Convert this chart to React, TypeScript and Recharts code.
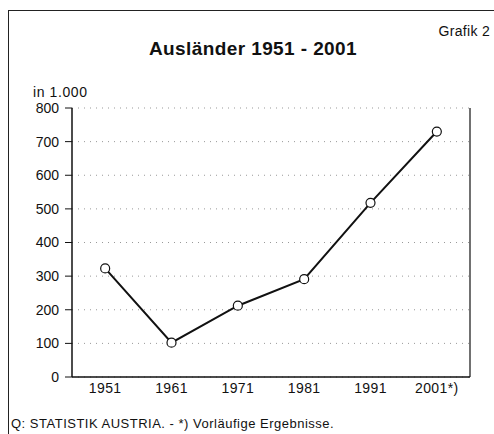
import React from 'react';
import { LineChart, Line, XAxis, YAxis, CartesianGrid } from 'recharts';

const years = ['1951', '1961', '1971', '1981', '1991', '2001*)'];
const auslaender = [323, 102, 212, 291, 518, 730];
const yTicks = [0, 100, 200, 300, 400, 500, 600, 700, 800];

const data = years.map((year, i) => ({ year, value: auslaender[i] }));

const font = '"Liberation Sans", Arial, Helvetica, sans-serif';

const App: React.FC = () => {
  return (
    <div style={{ position: 'absolute', left: 0, top: 0, width: 494, height: 434, background: '#fff', fontFamily: font, color: '#111' }}>
      {/* frame */}
      <div style={{ position: 'absolute', left: 8, top: 10, width: 486, height: 424, borderLeft: '1.5px solid #222', borderTop: '1.5px solid #222' }} />
      <div style={{ position: 'absolute', right: 4, top: 23, fontSize: 14, letterSpacing: 0.3 }}>Grafik 2</div>
      <div style={{ position: 'absolute', left: 0, width: 506, top: 38, textAlign: 'center', fontSize: 19, fontWeight: 'bold', letterSpacing: 0.4 }}>
        Ausländer 1951 - 2001
      </div>
      <div style={{ position: 'absolute', left: 33, top: 84, fontSize: 14, letterSpacing: 0.6 }}>in 1.000</div>
      <div style={{ position: 'absolute', left: 11, top: 416, fontSize: 13, letterSpacing: 0.5 }}>
        Q: STATISTIK AUSTRIA. - *) Vorläufige Ergebnisse.
      </div>

      <div style={{ position: 'absolute', left: 0, top: 0 }}>
        <LineChart width={494} height={434} data={data} margin={{ top: 108, right: 0, bottom: 0, left: 0 }}>
          <CartesianGrid vertical={false} yAxisId="l" stroke="#999" strokeDasharray="1 5" />
          <XAxis
            dataKey="year"
            scale="band"
            height={57}
            tickSize={0}
            tickMargin={6}
            axisLine={{ stroke: '#111', strokeWidth: 1.5 }}
            tick={{ fill: '#111', fontSize: 14, fontFamily: font, letterSpacing: 0.4 }}
          />
          <YAxis
            yAxisId="l"
            width={72}
            domain={[0, 800]}
            ticks={yTicks}
            interval={0}
            tickSize={7}
            tickMargin={6}
            axisLine={{ stroke: '#111', strokeWidth: 1.5 }}
            tickLine={{ stroke: '#111' }}
            tick={{ fill: '#111', fontSize: 14, fontFamily: font }}
          />
          <YAxis
            yAxisId="r"
            orientation="right"
            width={24}
            domain={[0, 800]}
            ticks={yTicks}
            tick={false}
            tickLine={false}
            axisLine={{ stroke: '#111', strokeWidth: 1.2 }}
          />
          <XAxis
            xAxisId="t"
            orientation="top"
            dataKey="year"
            scale="band"
            height={0}
            tick={false}
            tickLine={false}
            axisLine={{ stroke: '#111', strokeWidth: 1.5 }}
          />
          <Line
            yAxisId="l"
            type="linear"
            dataKey="value"
            stroke="#111"
            strokeWidth={2}
            dot={{ r: 4.5, fill: '#fff', stroke: '#111', strokeWidth: 1.2 }}
            isAnimationActive={false}
          />
        </LineChart>
      </div>
    </div>
  );
};

export default App;
